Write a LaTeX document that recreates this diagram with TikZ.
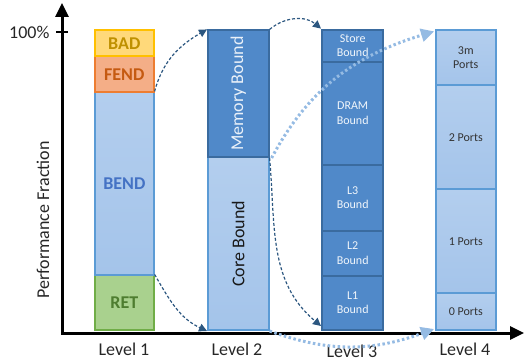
\documentclass[tikz,border=0pt]{standalone}
\usepackage{fontspec}
\setmainfont{Carlito}
\usetikzlibrary{arrows.meta}
\usepackage{xcolor}

\definecolor{badfill}{HTML}{FFD97A}
\definecolor{badline}{HTML}{FFC000}
\definecolor{badtext}{HTML}{BF9000}
\definecolor{fendfill}{HTML}{F4AE87}
\definecolor{fendline}{HTML}{ED7D31}
\definecolor{fendtext}{HTML}{C55A11}
\definecolor{lightfill}{HTML}{A4C4EA}
\definecolor{lightfilltop}{HTML}{B3CEEE}
\definecolor{lightline}{HTML}{5B9BD5}
\definecolor{bendtext}{HTML}{4472C4}
\definecolor{retfill}{HTML}{A9D18E}
\definecolor{retline}{HTML}{70AD47}
\definecolor{rettext}{HTML}{4E7D30}
\definecolor{darkfill}{HTML}{5089C9}
\definecolor{darkline}{HTML}{3A6B9F}
\definecolor{arrowdark}{HTML}{2C5780}
\definecolor{arrowlight}{HTML}{95BBE3}

\begin{document}
\begin{tikzpicture}[x=1pt,y=1pt,
  seg/.style={draw, line width=1.6pt, anchor=south west, inner sep=0pt,
    align=center, font=\fontsize{18}{20}\selectfont},
  toptxt/.style={font=\fontsize{18}{20}\selectfont\bfseries},
  smalltxt/.style={font=\fontsize{12}{14.5}\selectfont},
  lightseg/.style={seg, draw=lightline, top color=lightfilltop, bottom color=lightfill},
  darkseg/.style={seg, smalltxt, draw=darkline, fill=darkfill, line width=2.4pt,
    minimum width=61pt, text=white!92!darkfill},
  dashflow/.style={arrowdark, line width=1.2pt, dash pattern=on 3pt off 2pt,
    -{Triangle[length=8pt,width=8pt]}},
  dotflow/.style={arrowlight, line width=3pt, dash pattern=on 2.5pt off 2.5pt,
    -{Triangle[length=13pt,width=13pt]}},
  lvl/.style={font=\fontsize{18}{20}\selectfont, text=black!85}]

\useasboundingbox (0,0) rectangle (524,362);

% axes
\coordinate (origin) at (62,29);
\coordinate (ytop) at (62,359);
\coordinate (xend) at (524,29);
\draw[line width=3pt, {Triangle[length=14pt,width=13pt]}-{Triangle[length=14pt,width=13pt]}]
  (ytop) -- (origin) -- (xend);
\coordinate (tickl) at (56,330);
\coordinate (tickr) at (68,330);
\draw[line width=1.5pt] (tickl) -- (tickr);
\node[lvl, anchor=east] (full) at (53,330) {100\%};
\node[lvl, rotate=90] (ylab) at (43,142) {Performance Fraction};

% level 1
\node[seg, toptxt, draw=retline, fill=retfill, text=rettext, minimum width=59pt, minimum height=55pt] (ret) at (94,31) {RET};
\node[seg, lightseg, toptxt, text=bendtext, minimum width=59pt, minimum height=183pt] (bend) at (94,86) {BEND};
\node[seg, toptxt, draw=fendline, fill=fendfill, text=fendtext, minimum width=59pt, minimum height=36pt] (fend) at (94,269) {FEND};
\node[seg, toptxt, draw=badline, fill=badfill, text=badtext, minimum width=59pt, minimum height=26pt] (bad) at (94,305) {BAD};

% level 2
\node[seg, lightseg, minimum width=61pt, minimum height=173pt,
  label={[rotate=90, lvl, text=black!90]center:Core Bound}] (core) at (207,31) {};
\node[seg, draw=darkline, fill=darkfill, minimum width=61pt, minimum height=127pt,
  label={[rotate=90, lvl, text=white!88!darkfill]center:Memory Bound}] (mem) at (207,204) {};

% level 3
\node[darkseg, minimum height=54pt] (lone) at (321,31) {L1\\Bound};
\node[darkseg, minimum height=45pt] (ltwo) at (321,85) {L2\\Bound};
\node[darkseg, minimum height=66pt] (lthree) at (321,130) {L3\\Bound};
\node[darkseg, minimum height=103pt] (dram) at (321,196) {DRAM\\Bound};
\node[darkseg, minimum height=32pt] (store) at (321,299) {Store\\Bound};

% level 4
\node[lightseg, smalltxt, text=black!80, minimum width=60pt, minimum height=37pt] (pzero) at (435,31) {0 Ports};
\node[lightseg, smalltxt, text=black!80, minimum width=60pt, minimum height=104pt] (pone) at (435,68) {1 Ports};
\node[lightseg, smalltxt, text=black!80, minimum width=60pt, minimum height=104pt] (ptwo) at (435,172) {2 Ports};
\node[lightseg, smalltxt, text=black!80, minimum width=60pt, minimum height=55pt] (pthree) at (435,276) {3m\\Ports};

\node[lvl] (lvone) at (124,13) {Level 1};
\node[lvl] (lvtwo) at (237,13) {Level 2};
\node[lvl] (lvthree) at (352,11) {Level 3};
\node[lvl] (lvfour) at (465,13) {Level 4};

% drill-down arrows
\draw[dashflow] (bend.north east) to[out=75,in=210] (mem.north west);
\draw[dashflow] (ret.north east) to[out=-60,in=155] (core.south west);
\draw[dashflow] (mem.north east) to[out=40,in=140] (store.north west);
\draw[dashflow] (mem.south east) to[out=-85,in=140] ([yshift=5pt]lone.south west);
\draw[dotflow] ([xshift=2pt]mem.south east) to[out=62,in=197] ([xshift=-1pt,yshift=-2pt]pthree.north west);
\draw[dotflow] (core.south east) to[out=-20,in=200] ([xshift=-1pt,yshift=2pt]pzero.south west);

\end{tikzpicture}
\end{document}
